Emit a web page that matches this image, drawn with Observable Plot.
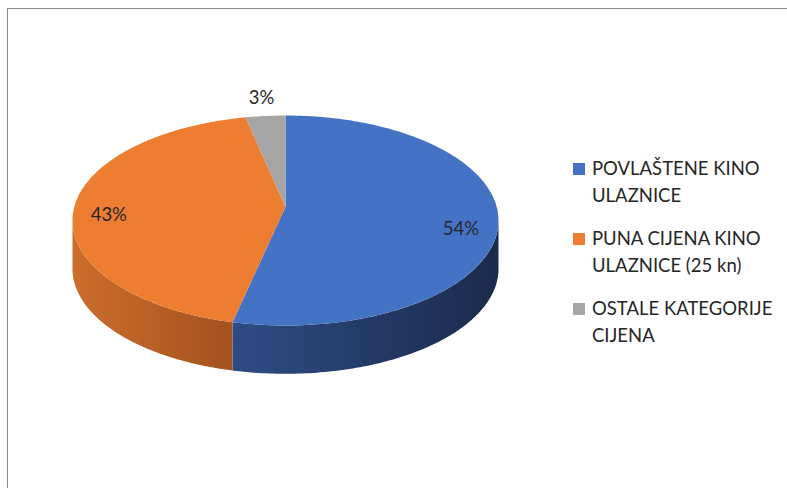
<!DOCTYPE html>
<html>
<head>
<meta charset="utf-8">
<script src="https://cdn.jsdelivr.net/npm/d3@7"></script>
<script src="https://cdn.jsdelivr.net/npm/@observablehq/plot@0.6"></script>
<style>
  html, body { margin: 0; padding: 0; background: #fff; }
  #wrap { position: relative; width: 787px; height: 488px; overflow: hidden; font-family: Lato, "Open Sans", sans-serif; }
  #chart { position: absolute; left: 0; top: 0; }
  #frame { position: absolute; left: 7px; top: 8px; width: 790px; height: 490px; border-top: 1px solid #8a8a8a; border-left: 1px solid #8a8a8a; box-sizing: border-box; pointer-events: none; }
  .entry { position: absolute; left: 573px; }
  .sw { position: absolute; left: 0; top: 8px; width: 12px; height: 12px; }
  .txt { position: absolute; left: 19px; white-space: nowrap; font-size: 18.5px; line-height: 27px; color: #262626; }
</style>
</head>
<body>
<div id="wrap">
  <div id="chart"></div>
  <div id="legend"></div>
  <div id="frame"></div>
</div>
<script>
// ---- data ----
const categories = ["POVLAŠTENE KINO ULAZNICE", "PUNA CIJENA KINO ULAZNICE (25 kn)", "OSTALE KATEGORIJE CIJENA"];
const legendLines = [["POVLAŠTENE KINO", "ULAZNICE"], ["PUNA CIJENA KINO", "ULAZNICE (25 kn)"], ["OSTALE KATEGORIJE", "CIJENA"]];
const shares = [54, 43, 3];
const valueLabels = ["54%", "43%", "3%"];
const topColors = ["#4472C4", "#ED7D31", "#A5A5A5"];
const sideGradients = [["#2e4c84", "#1a2a4b"], ["#cc6d2c", "#a3521e"], ["#8a8a8a", "#6e6e6e"]];

// ---- geometry (unit ellipse, angle from 12 o'clock clockwise) ----
const apex = {x: 0, y: -0.13};
const depth = 0.46;
const rad = d => d * Math.PI / 180;
const pt = deg => ({x: Math.sin(rad(deg)), y: -Math.cos(rad(deg))});
const total = d3.sum(shares);
let acc = 0;
const slices = shares.map((v, i) => {
  const a0 = acc / total * 360; acc += v; const a1 = acc / total * 360;
  return {i, a0, a1, v};
});

function arc(a0, a1) {
  const n = Math.max(2, Math.ceil(Math.abs(a1 - a0)));
  return d3.range(n + 1).map(k => pt(a0 + (a1 - a0) * k / n));
}

const topPolys = slices.map(s => [apex, ...arc(s.a0, s.a1), apex].map(p => ({...p, k: s.i})));
const sidePolys = slices.map(s => {
  const a0 = Math.max(s.a0, 90), a1 = Math.min(s.a1, 270);
  if (a1 <= a0) return null;
  const top = arc(a0, a1);
  const bottom = top.slice().reverse().map(p => ({x: p.x, y: p.y + depth}));
  return [...top, ...bottom, top[0]].map(p => ({...p, k: s.i}));
}).filter(Boolean);

const labels = slices.map(s => {
  const m = pt((s.a0 + s.a1) / 2);
  const f = s.v < 5 ? 1.2 : 0.83;
  return {x: apex.x + f * (m.x - apex.x), y: apex.y + f * (m.y - apex.y), t: valueLabels[s.i]};
});

const marks = [];
sidePolys.forEach(poly => marks.push(Plot.line(poly, {x: "x", y: "y", fill: `url(#side${poly[0].k})`, stroke: "none"})));
topPolys.forEach(poly => marks.push(Plot.line(poly, {x: "x", y: "y", fill: topColors[poly[0].k], stroke: "none"})));
marks.push(Plot.text(labels, {x: "x", y: "y", text: "t", fontSize: 18.5, fill: "#262626", textAnchor: "middle", lineAnchor: "middle", fontFamily: "Lato, 'Open Sans', sans-serif"}));

const svg = Plot.plot({
  width: 787, height: 488, margin: 0,
  style: {background: "transparent", overflow: "visible"},
  x: {domain: [-1, 1], range: [72, 498], axis: null},
  y: {domain: [-1, 1], range: [115, 325], axis: null},
  marks
});

const defs = d3.select(svg).insert("defs", ":first-child");
sideGradients.forEach((g, i) => {
  const lg = defs.append("linearGradient").attr("id", `side${i}`).attr("x1", "0").attr("x2", "1").attr("y1", "0").attr("y2", "0");
  lg.append("stop").attr("offset", "0").attr("stop-color", g[0]);
  lg.append("stop").attr("offset", "1").attr("stop-color", g[1]);
});
document.getElementById("chart").appendChild(svg);

// ---- legend ----
const legend = document.getElementById("legend");
legendLines.forEach((lines, i) => {
  const e = document.createElement("div");
  e.className = "entry";
  e.style.top = (155 + i * 70) + "px";
  const sw = document.createElement("div");
  sw.className = "sw"; sw.style.background = topColors[i];
  e.appendChild(sw);
  const t = document.createElement("div");
  t.className = "txt";
  t.innerHTML = lines.join("<br>");
  e.appendChild(t);
  legend.appendChild(e);
});
</script>
</body>
</html>
